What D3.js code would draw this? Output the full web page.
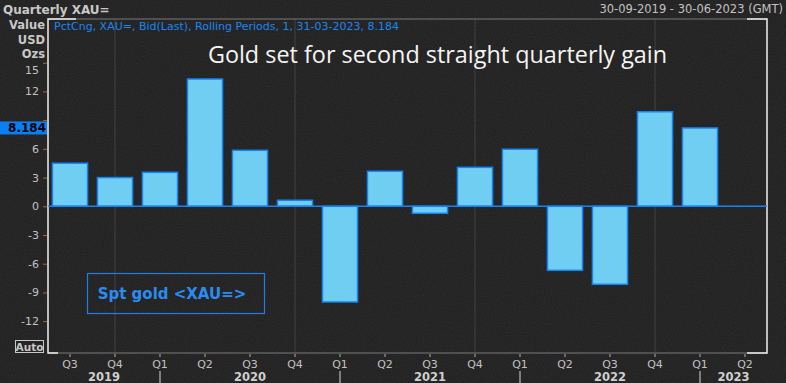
<!DOCTYPE html>
<html><head><meta charset="utf-8">
<script src="https://cdn.jsdelivr.net/npm/d3@7"></script>
<style>html,body{margin:0;padding:0;background:#222;overflow:hidden}svg{display:block}</style>
</head><body>
<script>
const quarters = ["Q3","Q4","Q1","Q2","Q3","Q4","Q1","Q2","Q3","Q4","Q1","Q2","Q3","Q4","Q1","Q2"];
const quarterYears = [2019,2019,2020,2020,2020,2020,2021,2021,2021,2021,2022,2022,2022,2022,2023,2023];
const pctChange = [4.5,3.0,3.55,13.3,5.85,0.63,-10.0,3.66,-0.73,4.07,5.96,-6.69,-8.15,9.88,8.184,null];
const yTicks = [-12,-9,-6,-3,0,3,6,9,12,15];
const years = [2019,2020,2021,2022,2023];
const lastValue = 8.184;

const W=786,H=383;
const svg=d3.select("body").append("svg").attr("width",W).attr("height",H);
const defs=svg.append("defs");
const f=defs.append("filter").attr("id","noise").attr("x",0).attr("y",0).attr("width","100%").attr("height","100%");
f.append("feTurbulence").attr("type","fractalNoise").attr("baseFrequency",0.9).attr("numOctaves",1).attr("seed",3).attr("result","n");
f.append("feColorMatrix").attr("in","n").attr("type","matrix").attr("values","0 0 0 0 0.5  0 0 0 0 0.5  0 0 0 0 0.5  0 0 0 0.35 -0.1").attr("result","m");
f.append("feComposite").attr("in","m").attr("in2","SourceGraphic").attr("operator","in");

svg.append("rect").attr("width",W).attr("height",H).attr("fill","#232222");
svg.append("rect").attr("width",W).attr("height",H).attr("fill","#232222").attr("filter","url(#noise)").attr("opacity",0.35);

const L=48,R=767,T=19,B=353;
const keys=quarters.map((q,i)=>i);
const x=d3.scaleBand().domain(keys).range([L-0.5,R+0.5]).paddingInner(0.22).paddingOuter(0.11);
const y=d3.scaleLinear().domain([-15.33,19.57]).range([B,T]);
const font="'DejaVu Sans', Verdana, sans-serif";

// faint vertical grid at Q4 centers
svg.append("g").selectAll("line").data(keys.filter(i=>quarters[i]==="Q4")).join("line")
  .attr("x1",i=>x(i)+x.bandwidth()/2).attr("x2",i=>x(i)+x.bandwidth()/2)
  .attr("y1",T).attr("y2",B).attr("stroke","#3a3838").attr("stroke-width",1.5);

// frame
svg.append("line").attr("x1",L).attr("x2",R).attr("y1",T).attr("y2",T).attr("stroke","#7a7a7a");
svg.append("line").attr("x1",L).attr("x2",R).attr("y1",B).attr("y2",B).attr("stroke","#7a7a7a");
svg.append("path").attr("d",`M${L+28},${T}H${L}V${B}H${L+10}`).attr("fill","none").attr("stroke","#f0f0f0").attr("stroke-width",1.5);
svg.append("path").attr("d",`M${R-20},${T}H${R}V${B}H${R-20}`).attr("fill","none").attr("stroke","#f0f0f0").attr("stroke-width",1.5);

// bars
const barFill="#6fcef2";
const data=keys.filter(i=>pctChange[i]!=null);
svg.append("g").selectAll("rect").data(data).join("rect")
  .attr("x",i=>x(i)).attr("width",x.bandwidth())
  .attr("y",i=>y(Math.max(0,pctChange[i]))).attr("height",i=>Math.abs(y(pctChange[i])-y(0)))
  .attr("fill",barFill).attr("stroke","#1683f5").attr("stroke-width",1.5);

// zero line
svg.append("line").attr("x1",L).attr("x2",R).attr("y1",y(0)).attr("y2",y(0)).attr("stroke","#1683f5").attr("stroke-width",1.5);

// y axis
const ya=svg.append("g").attr("transform",`translate(${L-1},0)`)
  .call(d3.axisLeft(y).tickValues(yTicks).tickSize(4).tickPadding(4).tickFormat(d=>d<0?"-"+Math.abs(d):d));
ya.select(".domain").remove();
ya.selectAll(".tick line").attr("stroke","#9a6a3a");
ya.selectAll(".tick text").attr("fill","#c2c2c2").attr("font-family",font).attr("font-size",11);
ya.selectAll(".tick").filter(d=>d===15).select("text").attr("dy","1.0em");
// the "9" label sits under the last-value marker in the reference
ya.selectAll(".tick").filter(d=>Math.abs(y(d)-y(lastValue))<12).select("text").attr("visibility","hidden");

// x axis
const xa=svg.append("g").attr("transform",`translate(0,${B+1})`)
  .call(d3.axisBottom(x).tickSize(3).tickPadding(3).tickFormat(i=>quarters[i]));
xa.select(".domain").remove();
xa.selectAll(".tick line").attr("stroke","#b0b0b0");
xa.selectAll(".tick text").attr("fill","#c2c2c2").attr("font-family",font).attr("font-size",11);

// year separators and labels
const yearStart=yr=>{const i=quarterYears.indexOf(yr);return quarters[i]==="Q1"?x(i)+x.bandwidth()/2:L;};
const yearEnd=yr=>{const i=quarterYears.indexOf(yr+1);return i<0?R:x(i)+x.bandwidth()/2;};
svg.append("g").selectAll("line").data(years.slice(1)).join("line")
  .attr("x1",d=>yearStart(d)).attr("x2",d=>yearStart(d)).attr("y1",371).attr("y2",383)
  .attr("stroke","#d8d8d8");
svg.append("g").selectAll("text").data(years).join("text")
  .attr("x",d=>(yearStart(d)+yearEnd(d))/2).attr("y",381).attr("text-anchor","middle")
  .attr("font-family",font).attr("font-size",11.5).attr("font-weight","bold").attr("fill","#cfcfcf").text(d=>d);

// last value marker
svg.append("rect").attr("x",0).attr("y",y(lastValue)-6.5).attr("width",L-1).attr("height",13).attr("fill","#0a7ff5");
svg.append("text").attr("x",L-2).attr("y",y(lastValue)+4.5).attr("text-anchor","end")
  .attr("font-family",font).attr("font-size",12).attr("font-weight","bold").attr("fill","#000").text(lastValue.toFixed(3));

// header texts
svg.append("text").attr("x",3).attr("y",14).attr("font-family",font).attr("font-size",12).attr("font-weight","bold").attr("fill","#c8c8c8").text("Quarterly XAU=");
[["Value",29],["USD",44],["Ozs",58]].forEach(([t,yy])=>svg.append("text").attr("x",45).attr("y",yy).attr("text-anchor","end")
  .attr("font-family",font).attr("font-size",11.5).attr("font-weight","bold").attr("fill","#c8c8c8").text(t));
svg.append("text").attr("x",783).attr("y",13).attr("text-anchor","end").attr("font-family",font).attr("font-size",11.5).attr("fill","#c2c2c2").text("30-09-2019 - 30-06-2023 (GMT)");
svg.append("text").attr("x",54).attr("y",30).attr("font-family",font).attr("font-size",11).attr("fill","#1a86f0").text("PctCng, XAU=, Bid(Last), Rolling Periods, 1, 31-03-2023, 8.184");
svg.append("text").attr("x",437.5).attr("y",63).attr("text-anchor","middle").attr("font-family","'Open Sans', sans-serif").attr("font-size",23.4).attr("fill","#f4f4f4").text("Gold set for second straight quarterly gain");

// legend
svg.append("rect").attr("x",87.5).attr("y",273.5).attr("width",177).attr("height",40).attr("fill","none").attr("stroke","#1a7fe8").attr("stroke-width",1.2);
svg.append("text").attr("x",172).attr("y",299).attr("text-anchor","middle").attr("font-family",font).attr("font-size",15).attr("font-weight","bold").attr("fill","#2a8cf2").text("Spt gold <XAU=>");

// Auto box
svg.append("rect").attr("x",15.5).attr("y",340.5).attr("width",28).attr("height",12).attr("fill","none").attr("stroke","#c8c8c8");
svg.append("text").attr("x",29.5).attr("y",350.5).attr("text-anchor","middle").attr("font-family",font).attr("font-size",10.5).attr("font-weight","bold").attr("fill","#c8c8c8").text("Auto");
</script>
</body></html>
